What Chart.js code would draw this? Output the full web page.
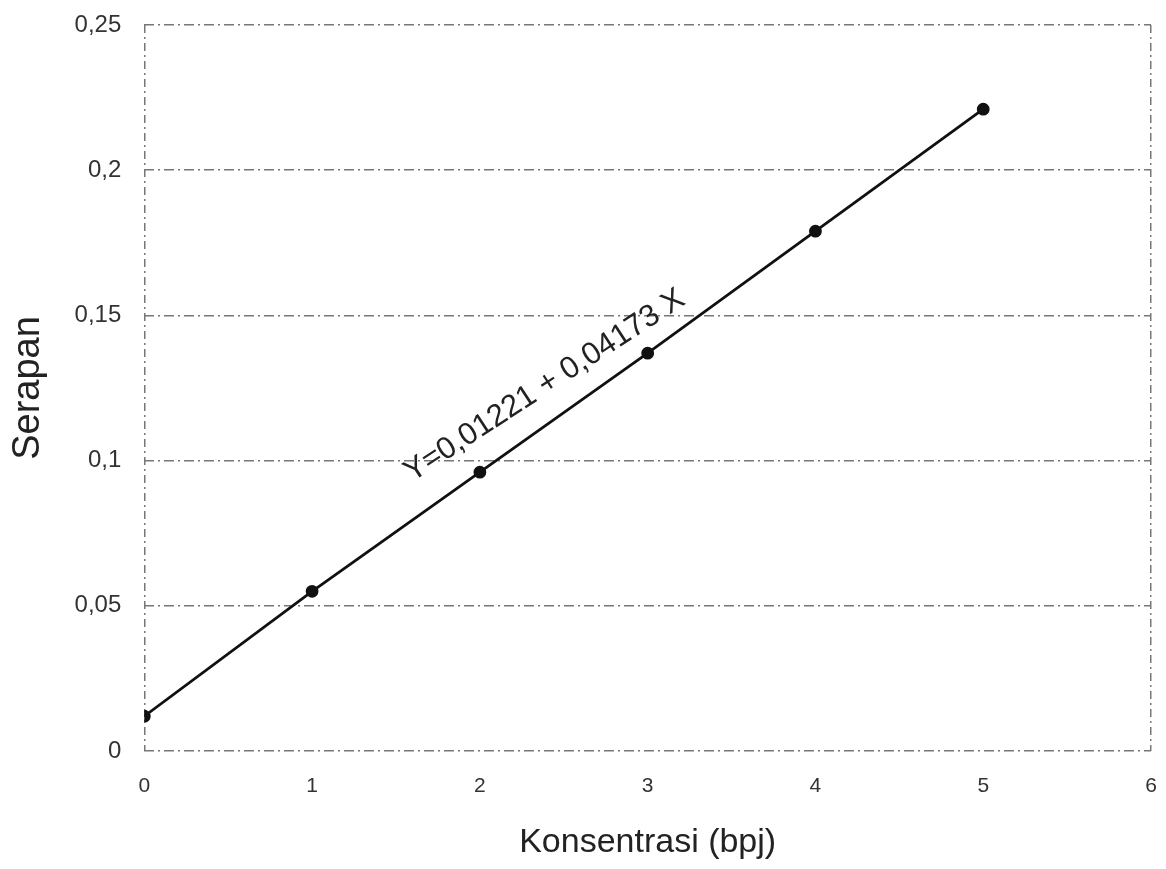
<!DOCTYPE html>
<html lang="id">
<head>
  <meta charset="UTF-8" />
  <title>Kurva Kalibrasi</title>
  <script src="https://cdn.jsdelivr.net/npm/chart.js"></script>
  <style>
    html, body { margin: 0; padding: 0; background: #fff; }
    #wrap { width: 1166px; height: 869px; }
  </style>
</head>
<body>
  <div id="wrap"><canvas id="kurva" width="1166" height="869"></canvas></div>

  <script>
    // data dari gambar
    const konsentrasi = [0, 1, 2, 3, 4, 5];
    const serapan = [0.012, 0.055, 0.096, 0.137, 0.179, 0.221];
    const xTicks = [0, 1, 2, 3, 4, 5, 6];
    const yTicks = [0, 0.05, 0.1, 0.15, 0.2, 0.25];
    const persamaan = 'Y=0,01221 + 0,04173 X';

    const fontFam = '"Liberation Sans", Arial, sans-serif';

    // teks persamaan, diputar mengikuti garis, sedikit di atas garis
    const labelPersamaan = {
      id: 'labelPersamaan',
      afterDatasetsDraw(chart) {
        const { ctx, scales: { x, y } } = chart;
        const x1 = x.getPixelForValue(2), y1 = y.getPixelForValue(serapan[2]);
        const x2 = x.getPixelForValue(3), y2 = y.getPixelForValue(serapan[3]);
        const ang = Math.atan2(y2 - y1, x2 - x1);
        const t = 0.5;
        const px = x1 + (x2 - x1) * t, py = y1 + (y2 - y1) * t;
        const off = 33;
        const cx = px + off * Math.sin(ang), cy = py - off * Math.cos(ang);
        ctx.save();
        ctx.translate(cx, cy);
        ctx.rotate(ang + 0.04);
        ctx.font = '31px ' + fontFam;
        ctx.fillStyle = '#222';
        ctx.textAlign = 'center';
        ctx.textBaseline = 'middle';
        ctx.fillText(persamaan, 0, 0);
        ctx.restore();
      }
    };

    const ctx = document.getElementById('kurva').getContext('2d');
    new Chart(ctx, {
      type: 'line',
      data: {
        datasets: [{
          data: konsentrasi.map((k, i) => ({ x: k, y: serapan[i] })),
          borderColor: '#111',
          borderWidth: 2.8,
          pointRadius: 5,
          pointBackgroundColor: '#111',
          pointBorderColor: '#111',
          tension: 0
        }]
      },
      options: {
        responsive: false,
        animation: false,
        layout: { padding: { top: 0, right: 0, left: 2, bottom: 2 } },
        plugins: {
          legend: { display: false },
          tooltip: { enabled: false }
        },
        scales: {
          x: {
            type: 'linear',
            min: 0, max: 6,
            afterBuildTicks: s => { s.ticks = xTicks.map(v => ({ value: v })); },
            afterFit: s => { s.paddingRight = 15; },
            grid: {
              drawTicks: false,
              color: c => (c.tick && (c.tick.value === 0 || c.tick.value === 6)) ? '#777' : 'rgba(0,0,0,0)',
              lineWidth: 1.5
            },
            border: { display: false, dash: [8, 4, 2, 4] },
            ticks: {
              padding: 23,
              color: '#333',
              font: { family: fontFam, size: 21 }
            },
            title: {
              display: true,
              text: 'Konsentrasi (bpj)',
              color: '#222',
              font: { family: fontFam, size: 34 },
              padding: { top: 0, bottom: 4 }
            }
          },
          y: {
            min: 0, max: 0.25,
            afterBuildTicks: s => { s.ticks = yTicks.map(v => ({ value: v })); },
            afterFit: s => { s.paddingTop = 25; },
            grid: { drawTicks: false, color: '#777', lineWidth: 1.5 },
            border: { display: false, dash: [10, 4, 2, 4] },
            ticks: {
              padding: 23,
              color: '#333',
              font: { family: fontFam, size: 24 },
              callback: v => String(v).replace('.', ',')
            },
            title: {
              display: true,
              text: 'Serapan',
              color: '#222',
              font: { family: fontFam, size: 38 },
              padding: { top: 4, bottom: 0 }
            }
          }
        }
      },
      plugins: [labelPersamaan]
    });
  </script>
</body>
</html>
